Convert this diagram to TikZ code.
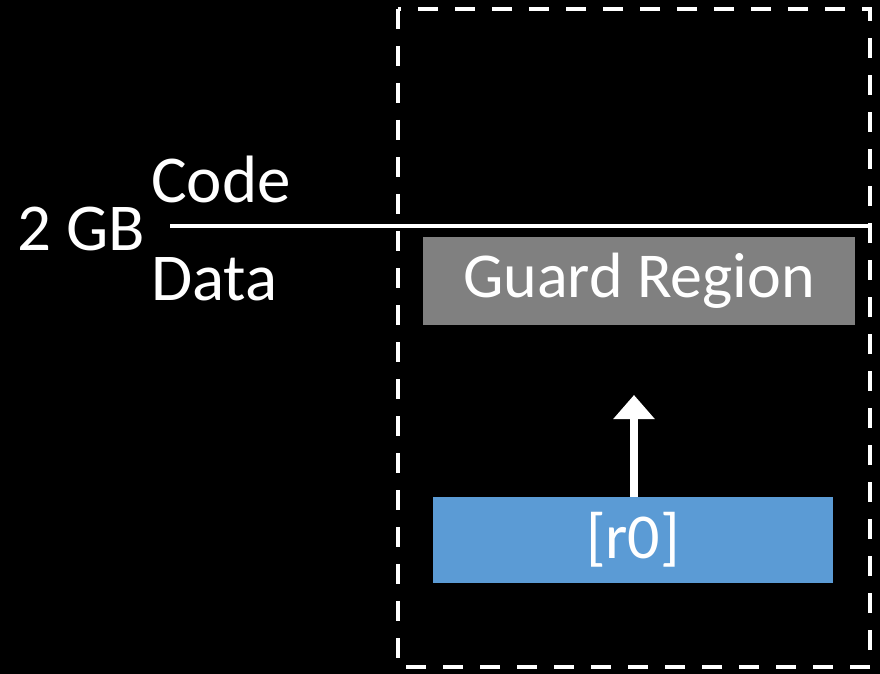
\documentclass[tikz,border=0pt]{standalone}
\usepackage{fontspec}
\setmainfont{Carlito}
\usetikzlibrary{arrows.meta}
\tikzset{
  lbl/.style={text=white, inner sep=0pt, font=\fontsize{67}{72}\selectfont},
  region/.style={minimum width=#1, inner sep=0pt, text=white, font=\fontsize{64}{70}\selectfont}
}
\begin{document}
\begin{tikzpicture}[x=1pt, y=-1pt, >={Triangle[width=40pt,length=24pt]}]
  \useasboundingbox[fill=black] (0,0) rectangle (880,674);
  % Sandbox boundary
  \draw[white, line width=3.5pt, dash pattern=on 20pt off 17pt] (398,9) rectangle (870,667);
  % Split between code and data
  \node[lbl, anchor=base west] (gb) at (17,250) {2 GB};
  \node[lbl, anchor=base west] (code) at (151,202) {Code};
  \node[lbl, anchor=base west] (data) at (151,300) {Data};
  \coordinate (split) at (170,226);
  \coordinate (splitend) at (870,226);
  \draw[white, line width=4pt] (split) -- (splitend);
  % Regions
  \node[region=432pt, fill=gray, minimum height=88pt] (guard) at (639,281) {Guard Region};
  \node[region=400pt, fill={rgb,255:red,91;green,155;blue,213}, minimum height=86pt] (reg) at (633,540) {[r0]};
  % Access
  \coordinate (tip) at (634,395);
  \draw[->, white, line width=8pt] (reg.north -| tip) -- (tip);
\end{tikzpicture}
\end{document}
